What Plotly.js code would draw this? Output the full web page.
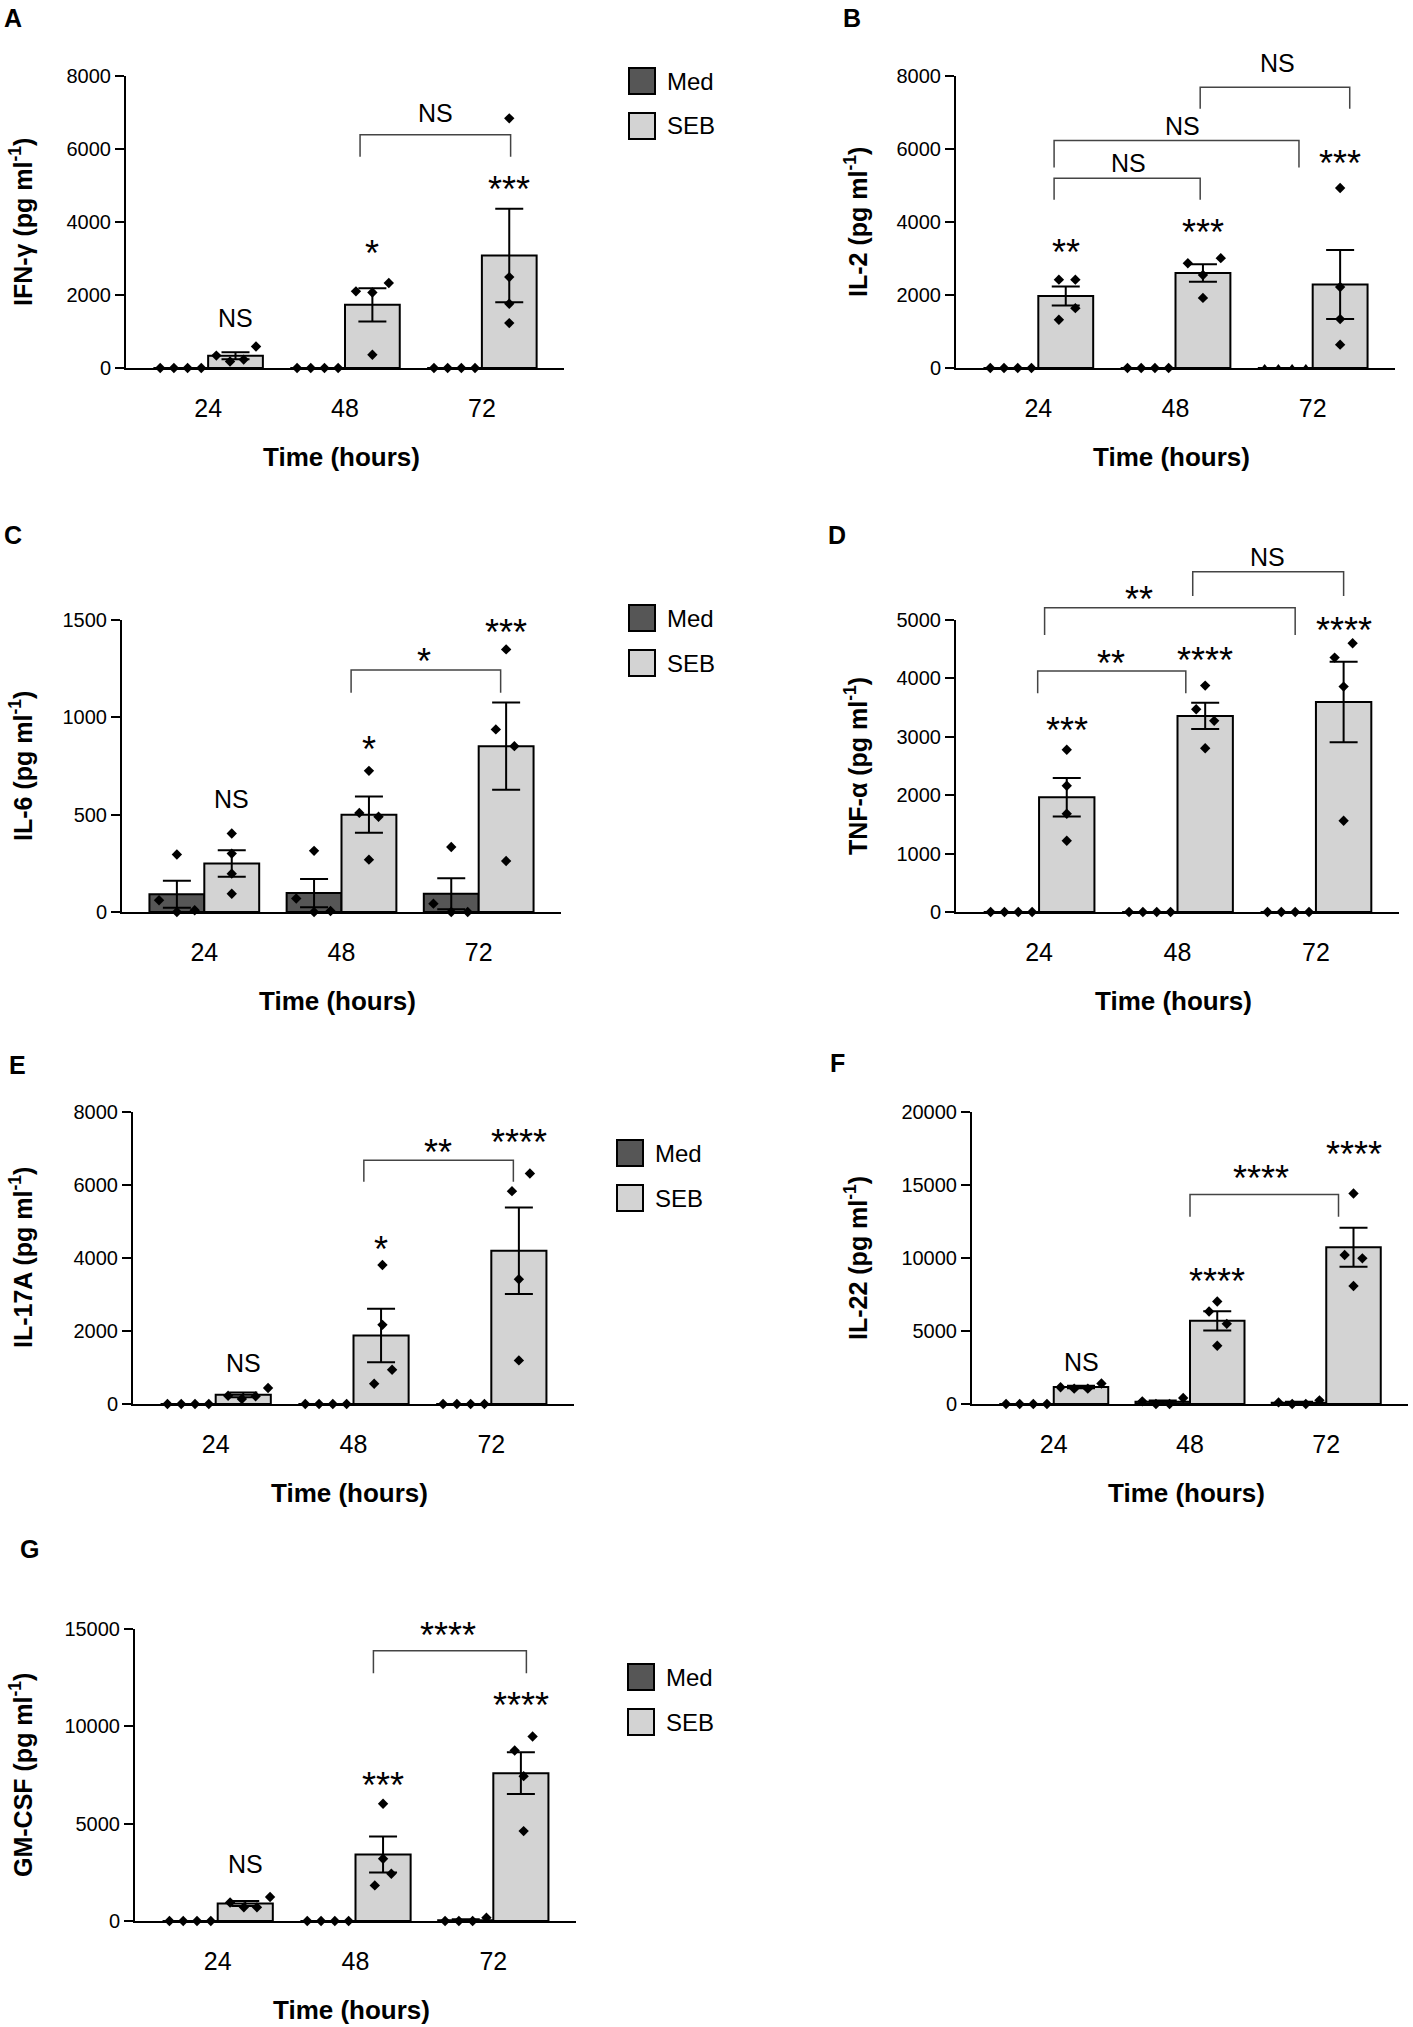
<!DOCTYPE html>
<html>
<head>
<meta charset="utf-8">
<script src="https://cdn.plot.ly/plotly-3.0.1.min.js"></script>
<style>
  html, body { margin: 0; padding: 0; background: #fff; }
  #graph { width: 1413px; height: 2027px; }
</style>
</head>
<body>
<div id="graph"></div>
<script>
// time points on the x axis
const timeLabels = ['24', '48', '72'];

// A - IFN-gamma
const ifnMedPts = [[0, 0, 0, 0], [0, 0, 0, 0], [0, 0, 0, 0]];
const ifnMedMean = [0, 0, 0];
const ifnMedSem = [0, 0, 0];
const ifnSebPts = [[340, 180, 230, 590], [2100, 2070, 2330, 365], [6840, 2490, 1760, 1230]];
const ifnSebMean = [335, 1730, 3080];
const ifnSebSem = [95, 455, 1280];
const ifnSig = ['NS', '*', '***'];
const ifnPairSig = ['NS'];

// B - IL-2
const il2MedPts = [[0, 0, 0, 0], [0, 0, 0, 0], [0, 0, 0, 0]];
const il2MedMean = [0, 0, 0];
const il2MedSem = [0, 0, 0];
const il2SebPts = [[2420, 2420, 1640, 1320], [2870, 3010, 2550, 1920], [4930, 2220, 1340, 640]];
const il2SebMean = [1970, 2600, 2290];
const il2SebSem = [260, 240, 945];
const il2Sig = ['**', '***', '***'];
const il2PairSig = ['NS', 'NS', 'NS'];

// C - IL-6
const il6MedPts = [[60, 295, 0, 9], [69, 314, 0, 5], [43, 334, 0, 0]];
const il6MedMean = [91, 97, 94];
const il6MedSem = [69, 73, 80];
const il6SebPts = [[403, 300, 197, 94], [725, 509, 489, 269], [1349, 938, 852, 262]];
const il6SebMean = [249, 500, 852];
const il6SebSem = [68, 93, 224];
const il6Sig = ['NS', '*', '***'];
const il6PairSig = ['*'];

// D - TNF-alpha
const tnfMedPts = [[0, 0, 0, 0], [0, 0, 0, 0], [0, 0, 0, 0]];
const tnfMedMean = [0, 0, 0];
const tnfMedSem = [0, 0, 0];
const tnfSebPts = [[2777, 2161, 1682, 1220], [3877, 3472, 3273, 2805], [4601, 4356, 3860, 1562]];
const tnfSebMean = [1965, 3358, 3595];
const tnfSebSem = [330, 225, 690];
const tnfSig = ['***', '****', '****'];
const tnfPairSig = ['**', '**', 'NS'];

// E - IL-17A
const il17MedPts = [[0, 0, 0, 0], [0, 0, 0, 0], [0, 0, 0, 0]];
const il17MedMean = [0, 0, 0];
const il17MedSem = [0, 0, 0];
const il17SebPts = [[228, 137, 210, 437], [3809, 2169, 939, 556], [5831, 6314, 3417, 1194]];
const il17SebMean = [253, 1877, 4200];
const il17SebSem = [65, 735, 1183];
const il17Sig = ['NS', '*', '****'];
const il17PairSig = ['**'];

// F - IL-22
const il22MedPts = [[0, 0, 0, 0], [180, 0, 0, 410], [110, 0, 0, 250]];
const il22MedMean = [0, 148, 90];
const il22MedSem = [0, 97, 59];
const il22SebPts = [[1150, 1050, 1050, 1400], [7016, 6333, 5490, 3986], [14419, 10205, 9977, 8087]];
const il22SebMean = [1160, 5695, 10729];
const il22SebSem = [85, 653, 1336];
const il22Sig = ['NS', '****', '****'];
const il22PairSig = ['****'];

// G - GM-CSF
const gmMedPts = [[0, 0, 0, 0], [0, 0, 0, 0], [0, 0, 0, 171]];
const gmMedMean = [0, 0, 43];
const gmMedSem = [0, 0, 43];
const gmSebPts = [[950, 700, 700, 1230], [6020, 3198, 2429, 1830], [9475, 8757, 7440, 4618]];
const gmSebMean = [900, 3420, 7594];
const gmSebSem = [130, 927, 1071];
const gmSig = ['NS', '***', '****'];
const gmPairSig = ['****'];

const W = 1413, H = 2027;
const MED_OFF = -0.2, SEB_OFF = 0.2, BAR_W = 0.4;
const MED_COLOR = '#565656', SEB_COLOR = '#d3d3d3';
const FONT = 'Liberation Sans, Arial, Helvetica, sans-serif';

const spread = [-0.15, -0.05, 0.05, 0.15];
const centred = [0, 0, 0, 0];

// box = [axis left px, axis right px, zero line px, top tick px]
// pairs = [from, to, bracket y, leg end y, label x, label y]
const panels = [
  {
    letter: 'A', letterAt: [2, 2], yTitle: 'IFN-γ (pg ml<sup>-1</sup>)',
    med: [ifnMedPts, ifnMedMean, ifnMedSem], seb: [ifnSebPts, ifnSebMean, ifnSebSem],
    sig: ifnSig, pairSig: ifnPairSig,
    box: [126, 564, 368, 76], top: 8000, dtick: 2000,
    medJit: [spread, spread, spread],
    sebJit: [[-0.14, -0.04, 0.06, 0.15], [-0.12, 0, 0.12, 0], centred],
    sigY: [1370, 3380, 5150],
    pairs: [[1.11, 2.21, 6390, 5790, 1.66, 6980]],
    legend: [629, 68]
  },
  {
    letter: 'B', letterAt: [841, 2], yTitle: 'IL-2 (pg ml<sup>-1</sup>)',
    med: [il2MedPts, il2MedMean, il2MedSem], seb: [il2SebPts, il2SebMean, il2SebSem],
    sig: il2Sig, pairSig: il2PairSig,
    box: [956, 1395, 368, 76], top: 8000, dtick: 2000,
    medJit: [spread, spread, spread],
    sebJit: [[-0.05, 0.07, 0.07, -0.05], [-0.11, 0.13, 0, 0], centred],
    medSymbols: ['diamond', 'diamond', 'triangle-up'],
    sigY: [3420, 3950, 5840],
    pairs: [[0.115, 1.18, 5200, 4610, 0.66, 5630],
            [0.115, 1.90, 6230, 5490, 1.05, 6630],
            [1.18, 2.27, 7690, 7100, 1.74, 8350]]
  },
  {
    letter: 'C', letterAt: [2, 519], yTitle: 'IL-6 (pg ml<sup>-1</sup>)',
    med: [il6MedPts, il6MedMean, il6MedSem], seb: [il6SebPts, il6SebMean, il6SebSem],
    sig: il6Sig, pairSig: il6PairSig,
    box: [122, 561, 912, 620], top: 1500, dtick: 500,
    medJit: [[-0.13, 0, 0, 0.13], [-0.13, 0, 0, 0.12], [-0.13, 0, 0, 0.12]],
    sebJit: [centred, [0, -0.07, 0.07, 0], [0, -0.075, 0.06, 0]],
    sigY: [583, 883, 1480],
    pairs: [[1.07, 2.16, 1243, 1126, 1.6, 1332]],
    legend: [629, 605]
  },
  {
    letter: 'D', letterAt: [826, 519], yTitle: 'TNF-α (pg ml<sup>-1</sup>)',
    med: [tnfMedPts, tnfMedMean, tnfMedSem], seb: [tnfSebPts, tnfSebMean, tnfSebSem],
    sig: tnfSig, pairSig: tnfPairSig,
    box: [956, 1399, 912, 620], top: 5000, dtick: 1000,
    medJit: [spread, spread, spread],
    sebJit: [centred, [0, -0.065, 0.065, 0], [0.065, -0.065, 0, 0]],
    sigY: [3261, 4458, 4971],
    pairs: [[-0.01, 1.06, 4128, 3746, 0.52, 4401],
            [0.04, 1.85, 5211, 4743, 0.72, 5513],
            [1.11, 2.2, 5827, 5411, 1.65, 6072]]
  },
  {
    letter: 'E', letterAt: [7, 1049], yTitle: 'IL-17A (pg ml<sup>-1</sup>)',
    med: [il17MedPts, il17MedMean, il17MedSem], seb: [il17SebPts, il17SebMean, il17SebSem],
    sig: il17Sig, pairSig: il17PairSig,
    box: [133, 574, 1404, 1112], top: 8000, dtick: 2000,
    medJit: [spread, spread, spread],
    sebJit: [[-0.11, -0.01, 0.09, 0.18], [0.01, 0.01, 0.08, -0.05], [-0.05, 0.08, 0, 0]],
    sigY: [1120, 4490, 7408],
    pairs: [[1.075, 2.16, 6680, 6087, 1.61, 7134]],
    legend: [617, 1140]
  },
  {
    letter: 'F', letterAt: [828, 1047], yTitle: 'IL-22 (pg ml<sup>-1</sup>)',
    med: [il22MedPts, il22MedMean, il22MedSem], seb: [il22SebPts, il22SebMean, il22SebSem],
    sig: il22Sig, pairSig: il22PairSig,
    box: [972, 1408, 1404, 1112], top: 20000, dtick: 5000,
    medJit: [spread, spread, spread],
    sebJit: [spread, [0, -0.06, 0.07, 0], [0, -0.065, 0.065, 0]],
    sigY: [2847, 8998, 17722],
    pairs: [[1.0, 2.09, 14350, 12825, 1.52, 16060]]
  },
  {
    letter: 'G', letterAt: [18, 1533], yTitle: 'GM-CSF (pg ml<sup>-1</sup>)',
    med: [gmMedPts, gmMedMean, gmMedSem], seb: [gmSebPts, gmSebMean, gmSebSem],
    sig: gmSig, pairSig: gmPairSig,
    box: [135, 576, 1921, 1629], top: 15000, dtick: 5000,
    medJit: [spread, spread, spread],
    sebJit: [[-0.11, -0.01, 0.085, 0.18], [0, 0, 0.06, -0.06], [0.085, -0.045, 0.02, 0.02]],
    sigY: [2942, 7423, 11527],
    pairs: [[1.13, 2.24, 13888, 12724, 1.67, 15120]],
    legend: [628, 1664]
  }
];

function px2x(px) { return px / W; }
function px2y(py) { return 1 - py / H; }

// stars sit high in their line box, so pull them down onto the reading
function sigText(s, x, y, xid) {
  const isNS = s === 'NS';
  return {
    xref: xid, yref: 'paper', x: x, y: y, xanchor: 'center', yanchor: 'middle',
    text: s, showarrow: false,
    font: { size: isNS ? 25 : 36 },
    yshift: isNS ? 0 : -9
  };
}

const traces = [];
const shapes = [];
const annotations = [];
const layout = {
  width: W, height: H,
  margin: { l: 0, r: 0, t: 0, b: 0 },
  paper_bgcolor: '#fff', plot_bgcolor: 'rgba(0,0,0,0)',
  showlegend: false,
  font: { family: FONT, color: '#000' }
};

panels.forEach(function (p, n) {
  const k = n + 1;
  const sfx = k === 1 ? '' : String(k);
  const xid = 'x' + sfx, yid = 'y' + sfx;
  const [bx0, bx1, by0, by1] = p.box;
  const dom = [px2y(by0), px2y(by1)];
  const toPaper = v => dom[0] + v / p.top * (dom[1] - dom[0]);

  layout['xaxis' + sfx] = {
    domain: [px2x(bx0), px2x(bx1)], anchor: yid, range: [-0.6, 2.6],
    tickmode: 'array', tickvals: [0, 1, 2], ticktext: timeLabels,
    ticks: '', ticklabelstandoff: 17, tickfont: { size: 25 },
    showline: true, linecolor: '#000', linewidth: 2,
    showgrid: false, zeroline: false, fixedrange: true
  };
  layout['yaxis' + sfx] = {
    domain: dom, anchor: xid, range: [0, p.top], dtick: p.dtick, tick0: 0,
    tickformat: 'd',
    ticks: 'outside', ticklen: 9, tickwidth: 2, tickcolor: '#000',
    tickfont: { size: 20 },
    showline: true, linecolor: '#000', linewidth: 2,
    showgrid: false, zeroline: false, fixedrange: true
  };

  // bars with SEM error bars
  [[p.med, MED_OFF, MED_COLOR], [p.seb, SEB_OFF, SEB_COLOR]].forEach(function (g) {
    const [grp, off, col] = g;
    traces.push({
      type: 'bar', xaxis: xid, yaxis: yid,
      x: timeLabels.map((_, i) => i + off), y: grp[1], width: BAR_W,
      marker: { color: col, line: { color: '#000', width: 2 } },
      error_y: { type: 'data', array: grp[2], visible: true, color: '#000', thickness: 2, width: 14 },
      hoverinfo: 'skip'
    });
  });

  // individual donors
  [[p.med, MED_OFF, p.medJit, p.medSymbols], [p.seb, SEB_OFF, p.sebJit, null]].forEach(function (g) {
    const [grp, off, jit, syms] = g;
    const xs = [], ys = [], ss = [];
    grp[0].forEach(function (pts, i) {
      pts.forEach(function (v, j) {
        xs.push(i + off + jit[i][j]);
        ys.push(v);
        ss.push(syms ? syms[i] : 'diamond');
      });
    });
    traces.push({
      type: 'scatter', mode: 'markers', xaxis: xid, yaxis: yid,
      x: xs, y: ys, cliponaxis: false,
      marker: { symbol: ss, size: 8, color: '#000' },
      hoverinfo: 'skip'
    });
  });

  // significance over SEB bars
  p.sig.forEach(function (s, i) {
    annotations.push(sigText(s, i + SEB_OFF, toPaper(p.sigY[i]), xid));
  });

  // comparison brackets
  p.pairs.forEach(function (b, i) {
    const [x0, x1, yb, yl, lx, ly] = b;
    shapes.push({
      type: 'path', xref: xid, yref: 'paper',
      path: 'M' + x0 + ',' + toPaper(yl) + ' L' + x0 + ',' + toPaper(yb) +
            ' L' + x1 + ',' + toPaper(yb) + ' L' + x1 + ',' + toPaper(yl),
      line: { color: '#444', width: 1.5 }
    });
    annotations.push(sigText(p.pairSig[i], lx, toPaper(ly), xid));
  });

  // panel letter
  annotations.push({
    xref: 'paper', yref: 'paper', x: px2x(p.letterAt[0]), y: px2y(p.letterAt[1]),
    xanchor: 'left', yanchor: 'top', text: '<b>' + p.letter + '</b>',
    showarrow: false, font: { size: 25 }
  });

  // axis titles
  const yTitleX = bx0 < 700 ? 21 : 856;
  annotations.push({
    xref: 'paper', yref: 'paper', x: px2x(yTitleX), y: px2y((by0 + by1) / 2),
    xanchor: 'center', yanchor: 'middle',
    text: '<b>' + p.yTitle + '</b>', textangle: -90, showarrow: false,
    font: { size: 25 }
  });
  annotations.push({
    xref: 'paper', yref: 'paper', x: px2x((bx0 + bx1) / 2 - 4), y: px2y(by0 + 89),
    xanchor: 'center', yanchor: 'middle',
    text: '<b>Time (hours)</b>', showarrow: false, font: { size: 26 }
  });

  // legend
  if (p.legend) {
    const [lx, ly] = p.legend;
    [['Med', MED_COLOR, 0], ['SEB', SEB_COLOR, 45]].forEach(function (e) {
      shapes.push({
        type: 'rect', xref: 'paper', yref: 'paper',
        x0: px2x(lx), x1: px2x(lx + 26), y0: px2y(ly + e[2]), y1: px2y(ly + e[2] + 26),
        fillcolor: e[1], line: { color: '#000', width: 2 }
      });
      annotations.push({
        xref: 'paper', yref: 'paper', x: px2x(lx + 36), y: px2y(ly + e[2] + 13),
        xanchor: 'left', yanchor: 'middle', text: e[0], showarrow: false, font: { size: 24 }
      });
    });
  }
});

layout.shapes = shapes;
layout.annotations = annotations;

Plotly.newPlot('graph', traces, layout, { displayModeBar: false, staticPlot: true });
</script>
</body>
</html>
